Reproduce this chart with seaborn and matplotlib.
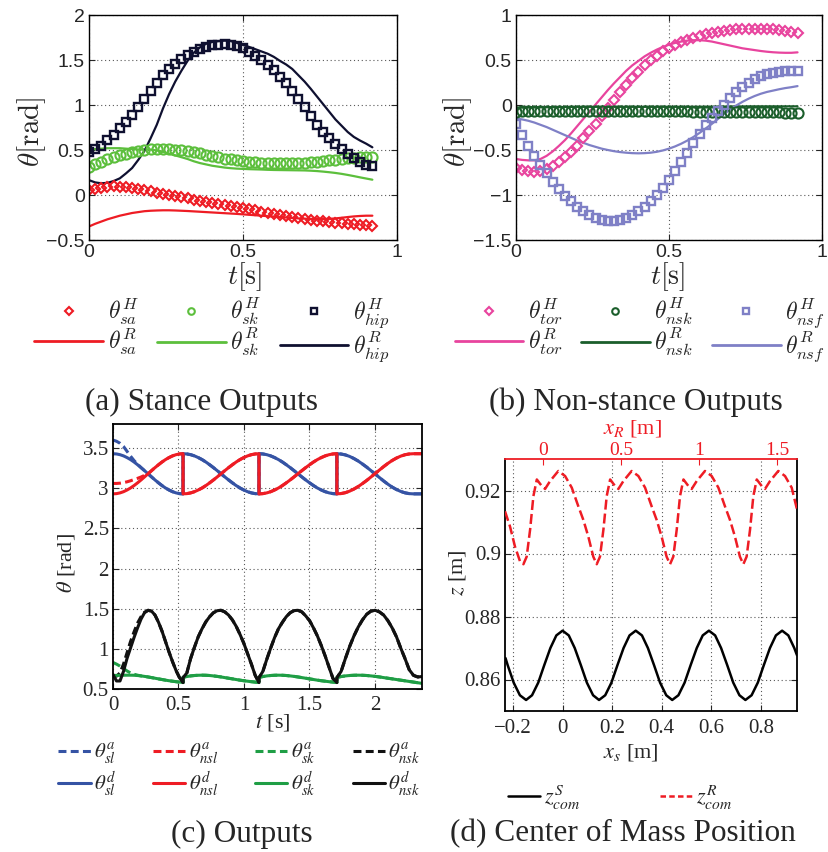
import numpy as np
import matplotlib
matplotlib.use("Agg")
import matplotlib.pyplot as plt
import seaborn as sns
from matplotlib.lines import Line2D

# ---------------- (a) Stance outputs ----------------
t_ab = np.linspace(0.0, 0.92, 47)
theta_sa_H = [0.06, 0.07, 0.08, 0.09, 0.095, 0.093, 0.088, 0.078, 0.066, 0.053, 0.04, 0.027, 0.014, 0.001,
              -0.012, -0.025, -0.038, -0.05, -0.062, -0.074, -0.086, -0.098, -0.11, -0.122, -0.135, -0.148,
              -0.16, -0.172, -0.184, -0.196, -0.208, -0.22, -0.232, -0.244, -0.256, -0.266, -0.276, -0.285,
              -0.293, -0.3, -0.307, -0.313, -0.319, -0.325, -0.33, -0.335, -0.34]
theta_sa_R = [-0.35, -0.32, -0.295, -0.27, -0.25, -0.23, -0.215, -0.20, -0.19, -0.18, -0.175, -0.172, -0.17,
              -0.17, -0.172, -0.175, -0.178, -0.182, -0.186, -0.19, -0.194, -0.198, -0.202, -0.206, -0.21,
              -0.215, -0.22, -0.225, -0.23, -0.235, -0.24, -0.245, -0.25, -0.255, -0.26, -0.263, -0.266,
              -0.268, -0.268, -0.265, -0.26, -0.253, -0.245, -0.238, -0.233, -0.23, -0.23]
theta_sk_H = [0.31, 0.34, 0.37, 0.395, 0.42, 0.44, 0.46, 0.475, 0.49, 0.50, 0.51, 0.515, 0.515, 0.512, 0.505,
              0.50, 0.49, 0.48, 0.465, 0.45, 0.435, 0.42, 0.405, 0.395, 0.385, 0.375, 0.37, 0.365, 0.36, 0.355,
              0.355, 0.355, 0.355, 0.355, 0.357, 0.36, 0.365, 0.37, 0.378, 0.385, 0.393, 0.40, 0.407, 0.413,
              0.418, 0.42, 0.42]
theta_sk_R = [0.50, 0.51, 0.515, 0.52, 0.52, 0.52, 0.515, 0.51, 0.505, 0.505, 0.505, 0.495, 0.48, 0.46, 0.44,
              0.42, 0.40, 0.375, 0.355, 0.34, 0.325, 0.315, 0.305, 0.298, 0.293, 0.29, 0.287, 0.285, 0.283,
              0.28, 0.278, 0.277, 0.276, 0.275, 0.274, 0.273, 0.27, 0.266, 0.26, 0.253, 0.245, 0.235, 0.223,
              0.21, 0.196, 0.183, 0.17]
theta_hip_H = [0.48, 0.51, 0.55, 0.61, 0.67, 0.74, 0.81, 0.89, 0.98, 1.07, 1.16, 1.25, 1.33, 1.40, 1.46, 1.51,
               1.56, 1.59, 1.62, 1.65, 1.665, 1.672, 1.675, 1.668, 1.655, 1.63, 1.59, 1.55, 1.505, 1.45, 1.39,
               1.315, 1.24, 1.16, 1.07, 0.98, 0.88, 0.78, 0.70, 0.63, 0.57, 0.51, 0.46, 0.41, 0.37, 0.335, 0.318]
theta_hip_R = [0.165, 0.14, 0.13, 0.135, 0.155, 0.185, 0.24, 0.30, 0.39, 0.49, 0.63, 0.78, 0.96, 1.12, 1.26,
               1.38, 1.49, 1.58, 1.64, 1.68, 1.70, 1.71, 1.715, 1.712, 1.69, 1.667, 1.645, 1.62, 1.595, 1.57,
               1.535, 1.49, 1.45, 1.40, 1.33, 1.26, 1.18, 1.095, 1.01, 0.925, 0.84, 0.77, 0.70, 0.645, 0.605,
               0.57, 0.53]

# ---------------- (b) Non-stance outputs ----------------
theta_tor_H = [-0.70, -0.72, -0.735, -0.74, -0.735, -0.71, -0.675, -0.63, -0.58, -0.52, -0.45, -0.37, -0.29,
               -0.21, -0.12, -0.03, 0.06, 0.14, 0.22, 0.30, 0.37, 0.44, 0.50, 0.55, 0.595, 0.635, 0.67, 0.70,
               0.725, 0.75, 0.77, 0.785, 0.80, 0.815, 0.827, 0.837, 0.844, 0.848, 0.85, 0.85, 0.848, 0.845,
               0.84, 0.832, 0.822, 0.81, 0.795]
theta_tor_R = [-0.60, -0.61, -0.615, -0.615, -0.60, -0.565, -0.515, -0.455, -0.39, -0.315, -0.235, -0.155,
               -0.075, 0.005, 0.085, 0.165, 0.24, 0.31, 0.38, 0.44, 0.49, 0.54, 0.58, 0.615, 0.645, 0.67, 0.69,
               0.705, 0.715, 0.72, 0.72, 0.715, 0.705, 0.69, 0.675, 0.66, 0.645, 0.63, 0.62, 0.61, 0.60, 0.592,
               0.586, 0.582, 0.58, 0.58, 0.585]
theta_nsk_H = [-0.075, -0.072, -0.070, -0.068, -0.066, -0.065, -0.064, -0.064, -0.064, -0.064, -0.064, -0.064,
               -0.064, -0.064, -0.064, -0.064, -0.064, -0.064, -0.064, -0.064, -0.064, -0.065, -0.066, -0.067,
               -0.068, -0.069, -0.070, -0.071, -0.072, -0.073, -0.074, -0.075, -0.076, -0.077, -0.078, -0.079,
               -0.080, -0.080, -0.081, -0.081, -0.082, -0.082, -0.083, -0.083, -0.084, -0.084, -0.085]
theta_nsk_R = [-0.030, -0.029, -0.028, -0.027, -0.026, -0.025, -0.024, -0.023, -0.022, -0.021, -0.020, -0.020,
               -0.020, -0.020, -0.020, -0.020, -0.020, -0.020, -0.020, -0.020, -0.020, -0.020, -0.020, -0.020,
               -0.020, -0.020, -0.020, -0.020, -0.020, -0.019, -0.019, -0.018, -0.018, -0.017, -0.017, -0.016,
               -0.016, -0.016, -0.015, -0.015, -0.015, -0.015, -0.015, -0.015, -0.015, -0.015, -0.015]
theta_nsf_H = [-0.21, -0.33, -0.46, -0.565, -0.67, -0.76, -0.85, -0.93, -1.01, -1.07, -1.13, -1.18, -1.225,
               -1.255, -1.275, -1.285, -1.285, -1.275, -1.255, -1.225, -1.18, -1.13, -1.07, -1.00, -0.92, -0.83,
               -0.735, -0.635, -0.53, -0.425, -0.32, -0.225, -0.14, -0.065, 0.005, 0.075, 0.14, 0.20, 0.25,
               0.29, 0.32, 0.342, 0.357, 0.368, 0.375, 0.38, 0.382]
theta_nsf_R = [-0.15, -0.16, -0.175, -0.195, -0.22, -0.245, -0.275, -0.305, -0.335, -0.365, -0.395, -0.42,
               -0.445, -0.465, -0.485, -0.50, -0.513, -0.523, -0.53, -0.535, -0.537, -0.535, -0.53, -0.52,
               -0.505, -0.485, -0.46, -0.43, -0.395, -0.355, -0.31, -0.26, -0.21, -0.155, -0.10, -0.05, -0.005,
               0.035, 0.07, 0.10, 0.125, 0.145, 0.16, 0.175, 0.188, 0.198, 0.21]

# ---------------- (c) Outputs (4 steps, 21 samples per step) ----------------
step_times = [0.0, 0.535, 1.115, 1.71, 2.36]
theta_sl_d = [3.430, 3.427, 3.418, 3.403, 3.382, 3.357, 3.327, 3.293, 3.257, 3.219, 3.180, 3.141, 3.103, 3.067, 3.033, 3.003, 2.978, 2.957, 2.942, 2.933, 2.930,
              3.430, 3.427, 3.418, 3.403, 3.382, 3.357, 3.327, 3.293, 3.257, 3.219, 3.180, 3.141, 3.103, 3.067, 3.033, 3.003, 2.978, 2.957, 2.942, 2.933, 2.930,
              3.430, 3.427, 3.418, 3.403, 3.382, 3.357, 3.327, 3.293, 3.257, 3.219, 3.180, 3.141, 3.103, 3.067, 3.033, 3.003, 2.978, 2.957, 2.942, 2.933, 2.930,
              3.430, 3.426, 3.415, 3.396, 3.370, 3.339, 3.302, 3.263, 3.220, 3.177, 3.133, 3.090, 3.050, 3.014, 2.984, 2.960, 2.943, 2.933, 2.930, 2.930, 2.930]
theta_nsl_d = [2.930, 2.933, 2.942, 2.957, 2.978, 3.003, 3.033, 3.067, 3.103, 3.141, 3.180, 3.219, 3.257, 3.293, 3.327, 3.357, 3.382, 3.403, 3.418, 3.427, 3.430,
               2.930, 2.933, 2.942, 2.957, 2.978, 3.003, 3.033, 3.067, 3.103, 3.141, 3.180, 3.219, 3.257, 3.293, 3.327, 3.357, 3.382, 3.403, 3.418, 3.427, 3.430,
               2.930, 2.933, 2.942, 2.957, 2.978, 3.003, 3.033, 3.067, 3.103, 3.141, 3.180, 3.219, 3.257, 3.293, 3.327, 3.357, 3.382, 3.403, 3.418, 3.427, 3.430,
               2.930, 2.934, 2.945, 2.964, 2.990, 3.021, 3.058, 3.097, 3.140, 3.183, 3.227, 3.270, 3.310, 3.346, 3.376, 3.400, 3.417, 3.427, 3.430, 3.430, 3.430]
theta_sk_d = [0.668, 0.669, 0.670, 0.671, 0.672, 0.672, 0.671, 0.668, 0.663, 0.657, 0.650, 0.642, 0.634, 0.626, 0.618, 0.610, 0.603, 0.597, 0.591, 0.586, 0.582,
              0.645, 0.655, 0.663, 0.668, 0.671, 0.672, 0.671, 0.668, 0.663, 0.657, 0.650, 0.642, 0.634, 0.626, 0.618, 0.610, 0.603, 0.597, 0.591, 0.586, 0.582,
              0.645, 0.655, 0.663, 0.668, 0.671, 0.672, 0.671, 0.668, 0.663, 0.657, 0.650, 0.642, 0.634, 0.626, 0.618, 0.610, 0.603, 0.597, 0.591, 0.586, 0.582,
              0.645, 0.655, 0.663, 0.668, 0.671, 0.672, 0.671, 0.668, 0.663, 0.657, 0.650, 0.642, 0.634, 0.626, 0.618, 0.610, 0.602, 0.594, 0.586, 0.578, 0.570]
theta_nsk_d = [0.68, 0.60, 0.60, 0.72, 0.88, 1.01, 1.14, 1.26, 1.37, 1.45, 1.48, 1.47, 1.42, 1.33, 1.22, 1.09, 0.96, 0.84, 0.73, 0.64, 0.58,
               0.64, 0.70, 0.88, 1.02, 1.15, 1.25, 1.336, 1.40, 1.45, 1.475, 1.48, 1.46, 1.42, 1.36, 1.28, 1.18, 1.07, 0.94, 0.81, 0.67, 0.58,
               0.64, 0.72, 0.87, 1.01, 1.14, 1.25, 1.33, 1.40, 1.45, 1.476, 1.48, 1.46, 1.41, 1.35, 1.26, 1.16, 1.04, 0.91, 0.77, 0.63, 0.58,
               0.64, 0.72, 0.88, 1.03, 1.16, 1.27, 1.36, 1.43, 1.47, 1.48, 1.46, 1.42, 1.35, 1.26, 1.15, 1.01, 0.88, 0.74, 0.67, 0.65, 0.655]
# actual outputs during the initial transient (first 11 samples), then they track the desired ones
theta_sl_a_start = [3.60, 3.585, 3.56, 3.52, 3.46, 3.40, 3.345, 3.30, 3.257, 3.219, 3.180]
theta_nsl_a_start = [3.06, 3.06, 3.063, 3.07, 3.08, 3.093, 3.108, 3.123, 3.14, 3.16, 3.18]
theta_sk_a_start = [0.83, 0.81, 0.785, 0.755, 0.725, 0.70, 0.683, 0.672, 0.663, 0.657, 0.65]
theta_nsk_a_start = [0.67, 0.66, 0.70, 0.81, 0.95, 1.09, 1.21, 1.32, 1.40, 1.455, 1.48]

# ---------------- (d) Center of mass position ----------------
x_s = [-0.230, -0.221, -0.197, -0.172, -0.147, -0.123, -0.098, -0.074, -0.049, -0.025, 0.000, 0.025, 0.049,
       0.074, 0.098, 0.123, 0.147, 0.172, 0.197, 0.221, 0.246, 0.270, 0.295, 0.320, 0.344, 0.369, 0.393,
       0.418, 0.442, 0.467, 0.492, 0.516, 0.541, 0.565, 0.590, 0.615, 0.639, 0.664, 0.688, 0.713, 0.737,
       0.762, 0.787, 0.811, 0.836, 0.860, 0.885, 0.910, 0.934, 0.945]
z_com_S = [0.8668, 0.8645, 0.8590, 0.8550, 0.8535, 0.8550, 0.8590, 0.8645, 0.8700, 0.8740, 0.8755, 0.8740,
           0.8700, 0.8645, 0.8590, 0.8550, 0.8535, 0.8550, 0.8590, 0.8645, 0.8700, 0.8740, 0.8755, 0.8740,
           0.8700, 0.8645, 0.8590, 0.8550, 0.8535, 0.8550, 0.8590, 0.8645, 0.8700, 0.8740, 0.8755, 0.8740,
           0.8700, 0.8645, 0.8590, 0.8550, 0.8535, 0.8550, 0.8590, 0.8645, 0.8700, 0.8740, 0.8755, 0.8740,
           0.8700, 0.8677]
x_R = [-0.244, -0.212, -0.180, -0.147,
       -0.126, -0.105, -0.083, -0.062, -0.040, -0.008, 0.013, 0.045, 0.098, 0.141, 0.184, 0.226, 0.258, 0.290, 0.322,
       0.344, 0.365, 0.387, 0.408, 0.430, 0.462, 0.483, 0.515, 0.568, 0.611, 0.654, 0.696, 0.728, 0.760, 0.792,
       0.814, 0.835, 0.857, 0.878, 0.900, 0.932, 0.953, 0.985, 1.038, 1.081, 1.124, 1.166, 1.198, 1.230, 1.262,
       1.284, 1.305, 1.327, 1.348, 1.370, 1.402, 1.423, 1.455, 1.508, 1.551, 1.594, 1.628]
z_com_R = [0.9134, 0.9086, 0.9022, 0.8974,
           0.8966, 0.8990, 0.9076, 0.9182, 0.9235, 0.9214, 0.9205, 0.9230, 0.9262, 0.9246, 0.9209, 0.9150, 0.9107, 0.9054, 0.8990,
           0.8966, 0.8990, 0.9076, 0.9182, 0.9235, 0.9214, 0.9205, 0.9230, 0.9262, 0.9246, 0.9209, 0.9150, 0.9107, 0.9054, 0.8990,
           0.8966, 0.8990, 0.9076, 0.9182, 0.9235, 0.9214, 0.9205, 0.9230, 0.9262, 0.9246, 0.9209, 0.9150, 0.9107, 0.9054, 0.8990,
           0.8966, 0.8990, 0.9076, 0.9182, 0.9235, 0.9214, 0.9205, 0.9230, 0.9262, 0.9246, 0.9209, 0.9140]

# ---------------- style ----------------
sns.set_style("ticks")
plt.rcParams["font.family"] = ["Liberation Serif", "DejaVu Sans"]
plt.rcParams["mathtext.fontset"] = "stix"
plt.rcParams["axes.unicode_minus"] = True

RED = "#ee1c24"
LGREEN = "#5cbf3c"
NAVY = "#0f1030"
PINK = "#e8449e"
DGREEN = "#1b5e2b"
LBLUE = "#7f80c6"
C_BLUE = "#3553a4"
C_RED = "#ee1c24"
C_GREEN = "#1f9e45"
C_BLACK = "#111111"
GRID_LS = (0, (1, 2.5))

fig = plt.figure(figsize=(8.29, 8.52), dpi=100)
W, H = 829.0, 852.0


def axes_px(left, top, right, bottom):
    return fig.add_axes([left / W, 1 - bottom / H, (right - left) / W, (bottom - top) / H])


ax_a = axes_px(89, 15, 397, 240)
ax_b = axes_px(516, 15, 822, 240)
ax_c = axes_px(113, 424, 422, 689)
ax_d = axes_px(505, 459, 797, 711)


def line(ax, x, y, color, lw, ls="-"):
    sns.lineplot(x=x, y=y, ax=ax, color=color, linewidth=lw, linestyle=ls,
                 estimator=None, sort=False, legend=False)


def marks(ax, x, y, color, marker, ms, mew):
    sns.lineplot(x=x, y=y, ax=ax, color=color, linestyle="none", marker=marker, markersize=ms,
                 markerfacecolor="none", markeredgecolor=color, markeredgewidth=mew,
                 estimator=None, sort=False, legend=False)


def style_ab(ax):
    ax.tick_params(direction="in", top=True, right=True, length=4, width=0.8, labelsize=14, pad=3,
                   labelfontfamily="Liberation Sans")
    ax.grid(True, linestyle=GRID_LS, color="0.35", linewidth=0.8)
    ax.set_axisbelow(True)
    for s in ax.spines.values():
        s.set_linewidth(1.0)
        s.set_color("black")


MS_D, MS_O, MS_S = 5.6, 7.3, 6.2

# ---------------- panel (a) ----------------
line(ax_a, t_ab, theta_sa_R, RED, 1.6)
line(ax_a, t_ab, theta_sk_R, LGREEN, 1.6)
line(ax_a, t_ab, theta_hip_R, NAVY, 1.6)
marks(ax_a, t_ab, theta_sa_H, RED, "D", MS_D, 1.5)
marks(ax_a, t_ab, theta_sk_H, LGREEN, "o", MS_O, 1.5)
marks(ax_a, t_ab, theta_hip_H, NAVY, "s", MS_S, 1.7)
ax_a.set_xlim(0, 1)
ax_a.set_ylim(-0.5, 2)
ax_a.set_xticks([0, 0.5, 1])
ax_a.set_xticklabels(["0", "0.5", "1"])
ax_a.set_yticks([-0.5, 0, 0.5, 1, 1.5, 2])
ax_a.set_yticklabels(["\u22120.5", "0", "0.5", "1", "1.5", "2"])
style_ab(ax_a)
ax_a.set_xlabel(r"$t[\mathrm{s}]$", fontsize=20, math_fontfamily="cm")
ax_a.set_ylabel(r"$\theta[\mathrm{rad}]$", fontsize=21, math_fontfamily="cm")
ax_a.xaxis.set_label_coords(0.506, -0.164)
ax_a.xaxis.label.set_va("center")
ax_a.yaxis.set_label_coords(-0.185, 0.48)
ax_a.yaxis.label.set_va("center")

# ---------------- panel (b) ----------------
line(ax_b, t_ab, theta_tor_R, PINK, 1.6)
line(ax_b, t_ab, theta_nsk_R, DGREEN, 1.6)
line(ax_b, t_ab, theta_nsf_R, LBLUE, 1.6)
marks(ax_b, t_ab, theta_tor_H, PINK, "D", MS_D, 1.5)
marks(ax_b, t_ab, theta_nsk_H, DGREEN, "o", MS_O, 1.5)
marks(ax_b, t_ab, theta_nsf_H, LBLUE, "s", MS_S, 1.7)
ax_b.set_xlim(0, 1)
ax_b.set_ylim(-1.5, 1)
ax_b.set_xticks([0, 0.5, 1])
ax_b.set_xticklabels(["0", "0.5", "1"])
ax_b.set_yticks([-1.5, -1, -0.5, 0, 0.5, 1])
ax_b.set_yticklabels(["\u22121.5", "\u22121", "\u22120.5", "0", "0.5", "1"])
style_ab(ax_b)
ax_b.set_xlabel(r"$t[\mathrm{s}]$", fontsize=20, math_fontfamily="cm")
ax_b.set_ylabel(r"$\theta[\mathrm{rad}]$", fontsize=21, math_fontfamily="cm")
ax_b.xaxis.set_label_coords(0.495, -0.164)
ax_b.xaxis.label.set_va("center")
ax_b.yaxis.set_label_coords(-0.19, 0.48)
ax_b.yaxis.label.set_va("center")

# legends (a), (b)
def ab_legend(entries, center_x):
    handles, labels = [], []
    for color, marker, ms, mew, lab_H, lab_R in entries:
        handles.append(Line2D([], [], color=color, marker=marker, linestyle="none", markersize=ms,
                              markerfacecolor="none", markeredgecolor=color, markeredgewidth=mew))
        labels.append(lab_H)
        handles.append(Line2D([], [], color=color, linewidth=2.0))
        labels.append(lab_R)
    leg = fig.legend(handles, labels, loc="center", bbox_to_anchor=(center_x / W, 1 - 330 / H), ncol=3,
                     frameon=False, handlelength=2.9, handletextpad=0.2, columnspacing=0.8,
                     labelspacing=-0.05, markerscale=0.65, prop={"size": 17})
    for txt in leg.get_texts():
        txt.set_math_fontfamily("cm")
    return leg


ab_legend([(RED, "D", MS_D, 1.5, r"$\theta^H_{sa}$", r"$\theta^R_{sa}$"),
           (LGREEN, "o", MS_O, 1.5, r"$\theta^H_{sk}$", r"$\theta^R_{sk}$"),
           (NAVY, "s", MS_S, 1.7, r"$\theta^H_{hip}$", r"$\theta^R_{hip}$")], 212)
ab_legend([(PINK, "D", MS_D, 1.5, r"$\theta^H_{tor}$", r"$\theta^R_{tor}$"),
           (DGREEN, "o", MS_O, 1.5, r"$\theta^H_{nsk}$", r"$\theta^R_{nsk}$"),
           (LBLUE, "s", MS_S, 1.7, r"$\theta^H_{nsf}$", r"$\theta^R_{nsf}$")], 640)

# ---------------- panel (c) ----------------
t_c = np.concatenate([np.linspace(step_times[i], step_times[i + 1], 21) for i in range(4)])
theta_sl_a = theta_sl_a_start + theta_sl_d[11:]
theta_nsl_a = theta_nsl_a_start + theta_nsl_d[11:]
theta_sk_a = theta_sk_a_start + theta_sk_d[11:]
theta_nsk_a = theta_nsk_a_start + theta_nsk_d[11:]
DASH_C = (0, (2.6, 1.4))
LW_C = 2.2
line(ax_c, t_c, theta_sl_a, C_BLUE, LW_C, DASH_C)
line(ax_c, t_c, theta_nsl_a, C_RED, LW_C, DASH_C)
line(ax_c, t_c, theta_sk_a, C_GREEN, LW_C, DASH_C)
line(ax_c, t_c, theta_nsk_a, C_BLACK, LW_C, DASH_C)
line(ax_c, t_c, theta_sl_d, C_BLUE, LW_C)
line(ax_c, t_c, theta_nsl_d, C_RED, LW_C)
line(ax_c, t_c, theta_sk_d, C_GREEN, LW_C)
line(ax_c, t_c, theta_nsk_d, C_BLACK, LW_C)
ax_c.set_xlim(0, 2.36)
ax_c.set_ylim(0.5, 3.8)
ax_c.set_xticks([0, 0.5, 1, 1.5, 2])
ax_c.set_xticklabels(["0", "0.5", "1", "1.5", "2"])
ax_c.set_yticks([0.5, 1, 1.5, 2, 2.5, 3, 3.5])
ax_c.set_yticklabels(["0.5", "1", "1.5", "2", "2.5", "3", "3.5"])
ax_c.tick_params(direction="in", top=True, right=True, length=4, width=0.8, labelsize=15, pad=3)
ax_c.tick_params(axis="x", pad=5)
ax_c.grid(True, linestyle=GRID_LS, color="0.35", linewidth=0.8)
ax_c.set_axisbelow(True)
for s in ax_c.spines.values():
    s.set_linewidth(1.3)
    s.set_color("black")
ax_c.set_xlabel(r"$t$ [s]", fontsize=16)
ax_c.set_ylabel(r"$\theta$ [rad]", fontsize=16)
ax_c.xaxis.set_label_coords(0.518, -0.128)
ax_c.xaxis.label.set_va("center")
ax_c.yaxis.set_label_coords(-0.152, 0.475)
ax_c.yaxis.label.set_va("center")

c_handles, c_labels = [], []
for col, nm in [(C_BLUE, "sl"), (C_RED, "nsl"), (C_GREEN, "sk"), (C_BLACK, "nsk")]:
    c_handles.append(Line2D([], [], color=col, linewidth=LW_C, linestyle=DASH_C))
    c_labels.append(r"$\theta^a_{%s}$" % nm)
    c_handles.append(Line2D([], [], color=col, linewidth=LW_C))
    c_labels.append(r"$\theta^d_{%s}$" % nm)
fig.legend(c_handles, c_labels, loc="center", bbox_to_anchor=(239 / W, 1 - 770 / H), ncol=4, frameon=False,
           handlelength=1.55, handletextpad=0.15, columnspacing=1.8, labelspacing=0.15, prop={"size": 15})

# ---------------- panel (d) ----------------
ax_top = ax_d.twiny()
line(ax_d, x_s, z_com_S, "black", 1.8)
line(ax_top, x_R, z_com_R, RED, 1.8, (0, (4, 1.6)))
ax_d.set_xlim(-0.232, 0.945)
ax_d.set_ylim(0.85, 0.93)
ax_d.set_xticks([-0.2, 0, 0.2, 0.4, 0.6, 0.8])
ax_d.set_xticklabels(["\u22120.2", "0", "0.2", "0.4", "0.6", "0.8"])
ax_d.set_yticks([0.86, 0.88, 0.90, 0.92])
ax_d.set_yticklabels(["0.86", "0.88", "0.9", "0.92"])
ax_d.tick_params(direction="in", top=False, right=True, length=4, width=0.8, labelsize=15, pad=3)
ax_d.tick_params(axis="x", pad=6)
ax_d.grid(True, linestyle=GRID_LS, color="0.35", linewidth=0.8)
ax_d.set_axisbelow(True)
for s in ax_d.spines.values():
    s.set_linewidth(1.3)
    s.set_color("black")
ax_d.spines["top"].set_visible(False)
ax_top.set_xlim(-0.244, 1.628)
ax_top.set_xticks([0, 0.5, 1, 1.5])
ax_top.set_xticklabels(["0", "0.5", "1", "1.5"])
ax_top.tick_params(axis="x", direction="in", length=4, width=0.8, labelsize=14, pad=0,
                   colors=RED)
for nm in ["left", "right", "bottom"]:
    ax_top.spines[nm].set_visible(False)
ax_top.spines["top"].set_color(RED)
ax_top.spines["top"].set_linewidth(1.3)
ax_top.grid(False)
ax_top.set_xlabel(r"$x_R$ [m]", fontsize=16, color=RED)
ax_top.xaxis.set_label_coords(0.435, 1.12)
ax_top.xaxis.label.set_va("center")
ax_d.set_xlabel(r"$x_s$ [m]", fontsize=16)
ax_d.set_ylabel(r"$z$ [m]", fontsize=16)
ax_d.xaxis.set_label_coords(0.43, -0.163)
ax_d.xaxis.label.set_va("center")
ax_d.yaxis.set_label_coords(-0.161, 0.548)
ax_d.yaxis.label.set_va("center")

d_handles = [Line2D([], [], color="black", linewidth=1.8),
             Line2D([], [], color=RED, linewidth=1.8, linestyle=(0, (2.2, 1.3)))]
fig.legend(d_handles, [r"$z^S_{com}$", r"$z^R_{com}$"], loc="center", bbox_to_anchor=(620 / W, 1 - 798 / H),
           ncol=2, frameon=False, handlelength=1.45, handletextpad=0.15, columnspacing=3.6,
           prop={"size": 16})

# ---------------- captions ----------------
cap_kw = dict(ha="center", va="center", fontsize=22.5, family="Liberation Serif")
fig.text(202 / W, 1 - 402 / H, "(a) Stance Outputs", **cap_kw)
fig.text(636 / W, 1 - 402 / H, "(b) Non-stance Outputs", **cap_kw)
fig.text(242 / W, 1 - 834 / H, "(c) Outputs", **cap_kw)
fig.text(623 / W, 1 - 834 / H, "(d) Center of Mass Position", **cap_kw)

fig.savefig("out.png", dpi=100)
